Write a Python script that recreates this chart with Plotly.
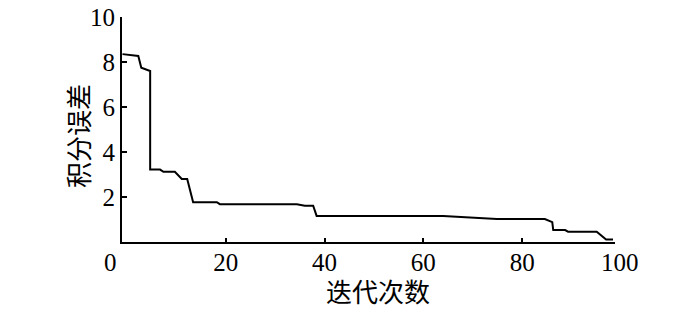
import plotly.graph_objects as go

# Iteration positions and integral error
iterations = [-0.9, 1.0, 2.3, 2.9, 3.4, 4.3, 4.7, 4.7, 6.7, 7.4, 9.7, 11.1, 12.2, 13.4,
              18.2, 18.8, 34.4, 36.0, 37.7, 38.4, 64.0, 74.9, 84.6, 86.1, 86.3,
              88.7, 89.3, 95.1, 97.0, 98.4]
integral_error = [8.35, 8.31, 8.27, 7.75, 7.7, 7.62, 7.6, 3.22, 3.22, 3.12, 3.12, 2.8, 2.8, 1.77,
                  1.77, 1.68, 1.68, 1.61, 1.61, 1.16, 1.16, 1.02, 1.02, 0.88, 0.53,
                  0.53, 0.46, 0.46, 0.11, 0.11]

x_tickvals = [20, 40, 60, 80]
y_tickvals = [2, 4, 6, 8, 10]

serif = "Liberation Serif, Times New Roman, serif"
cjk = "Noto Sans CJK SC"

fig = go.Figure()
fig.add_trace(go.Scatter(x=iterations, y=integral_error, mode="lines",
                         line=dict(color="black", width=2), showlegend=False,
                         hoverinfo="skip"))

fig.update_layout(
    width=700, height=317,
    margin=dict(l=114, r=93, t=9, b=83, autoexpand=False),
    paper_bgcolor="white", plot_bgcolor="white",
    xaxis=dict(range=[-1, 98.8], tickvals=x_tickvals, ticktext=[str(v) for v in x_tickvals],
               showline=True, linecolor="black", linewidth=2, ticks="inside",
               ticklen=4, tickwidth=1.5, tickcolor="black", showgrid=False, zeroline=False,
               automargin=False, ticklabelstandoff=-3, ticklabeloverflow="allow",
               tickfont=dict(family=serif, size=25, color="black")),
    yaxis=dict(range=[0, 10], tickvals=y_tickvals, ticktext=[str(v) for v in y_tickvals],
               showline=True, linecolor="black", linewidth=2, ticks="inside",
               ticklen=5, tickwidth=1.5, tickcolor="black", showgrid=False, zeroline=False,
               automargin=False, ticklabeloverflow="allow",
               tickfont=dict(family=serif, size=25, color="black")),
    annotations=[
        dict(text="0", xref="paper", yref="paper", x=-0.024, y=-0.09, showarrow=False,
             xanchor="center", yanchor="middle", font=dict(family=serif, size=25, color="black")),
        dict(text="100", xref="paper", yref="paper", x=1.01, y=-0.09, showarrow=False,
             xanchor="center", yanchor="middle", font=dict(family=serif, size=25, color="black")),
        dict(text="迭代次数", xref="paper", yref="paper", x=0.52, y=-0.215, showarrow=False,
             xanchor="center", yanchor="middle", font=dict(family=cjk, size=26, color="black")),
        dict(text="积分误差", xref="paper", yref="paper", x=-0.09, y=0.47, showarrow=False,
             textangle=-90, xanchor="center", yanchor="middle",
             font=dict(family=cjk, size=26, color="black")),
    ],
)

fig.write_html("out.html")
